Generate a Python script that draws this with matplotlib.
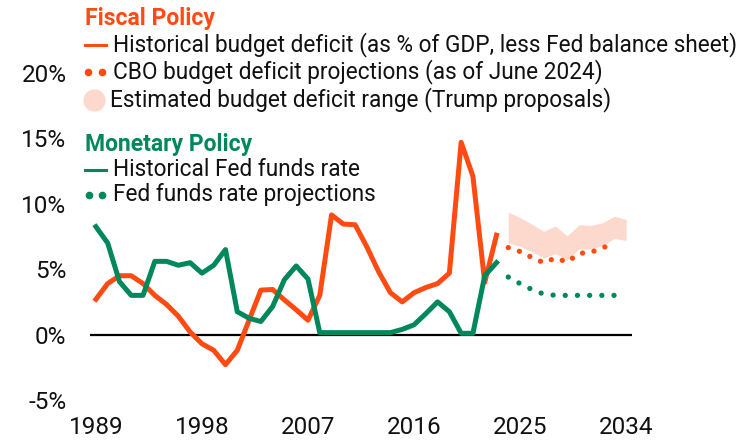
import matplotlib
matplotlib.use('Agg')
import matplotlib.pyplot as plt
from matplotlib.lines import Line2D

plt.rcParams['font.family'] = ['Roboto', 'DejaVu Sans']

# data
hist_years = list(range(1989, 2024))
deficit_hist = [2.7, 3.9, 4.5, 4.5, 3.9, 3.0, 2.3, 1.4, 0.2, -0.7,
                -1.2, -2.3, -1.2, 1.1, 3.4, 3.45, 2.65, 1.9, 1.1, 3.0,
                9.15, 8.45, 8.4, 6.7, 4.8, 3.2, 2.5, 3.2, 3.6, 3.9,
                4.7, 14.7, 12.1, 4.0, 7.6]
fed_hist = [8.25, 7.0, 4.05, 3.0, 3.0, 5.6, 5.6, 5.3, 5.5, 4.7,
            5.3, 6.5, 1.75, 1.25, 1.0, 2.15, 4.2, 5.25, 4.25, 0.15,
            0.15, 0.15, 0.15, 0.15, 0.15, 0.15, 0.4, 0.75, 1.6, 2.5,
            1.75, 0.1, 0.1, 4.5, 5.5]

proj_years = list(range(2024, 2034))
deficit_cbo = [6.65, 6.35, 5.9, 5.5, 5.85, 5.55, 6.2, 6.3, 6.6, 7.1]
fed_proj = [4.4, 3.9, 3.45, 3.1, 3.0, 3.0, 3.0, 3.0, 3.0, 3.0]

range_years = list(range(2024, 2035))
range_high = [9.35, 8.95, 8.45, 7.9, 8.3, 7.55, 8.4, 8.35, 8.55, 9.05, 8.8]
range_low = [7.0, 6.75, 6.35, 5.85, 6.2, 5.7, 6.55, 6.55, 6.8, 7.35, 7.2]

x_ticks = [1989, 1998, 2007, 2016, 2025, 2034]
y_ticks = [-5, 0, 5, 10, 15, 20]
y_labels = ['-5%', '0%', '5%', '10%', '15%', '20%']

orange = '#ff4b12'
green = '#00885c'
pink = '#fdd9cd'

W, H = 756, 440
fig = plt.figure(figsize=(W / 100, H / 100), dpi=100)
ax = fig.add_axes([90 / W, 1 - 400 / H, (632 - 90) / W, (400 - 73) / H])

ax.fill_between(range_years, range_low, range_high, color=pink, lw=0)
ax.axhline(0, color='black', lw=1.6, zorder=1)
ax.plot(hist_years, deficit_hist, color=orange, lw=3.6, zorder=3)
ax.plot(hist_years, fed_hist, color=green, lw=3.6, zorder=4)
ax.plot(proj_years, deficit_cbo, color=orange, lw=3.8,
        linestyle=(0, (0.01, 2.2)), dash_capstyle='round', zorder=3)
ax.plot(proj_years, fed_proj, color=green, lw=3.8,
        linestyle=(0, (0.01, 2.3)), dash_capstyle='round', zorder=3)

ax.set_xlim(1988.5, 2034.5)
ax.set_ylim(-5, 20)
ax.set_xticks(x_ticks)
ax.set_xticklabels([str(y) for y in x_ticks])
ax.set_yticks(y_ticks)
ax.set_yticklabels(y_labels)
ax.tick_params(length=0, labelsize=17.5, colors='#111111')
ax.tick_params(axis='y', pad=17)
ax.tick_params(axis='x', pad=11.5)
for s in ax.spines.values():
    s.set_visible(False)


def fx(px):
    return px / W


def fy(py):
    return 1 - py / H


# legend drawn by hand
txt = 16.3
fig.text(fx(85), fy(19), 'Fiscal Policy', color=orange, fontsize=16.5,
         fontweight='bold', va='center')
fig.add_artist(Line2D([fx(85), fx(106)], [fy(45), fy(45)], color=orange,
                      lw=2.2, transform=fig.transFigure))
fig.text(fx(113), fy(45), 'Historical budget deficit (as % of GDP, less Fed balance sheet)',
         fontsize=txt, va='center', color='#111111')
fig.add_artist(Line2D([fx(88), fx(102)], [fy(72), fy(72)], color=orange,
                      marker='o', markersize=4.5, linestyle='none',
                      transform=fig.transFigure))
fig.text(fx(113), fy(72), 'CBO budget deficit projections (as of June 2024)',
         fontsize=txt, va='center', color='#111111')
fig.add_artist(Line2D([fx(94)], [fy(100)], color=pink, marker='o',
                      markersize=15, linestyle='none', transform=fig.transFigure))
fig.text(fx(110), fy(100), 'Estimated budget deficit range (Trump proposals)',
         fontsize=txt, va='center', color='#111111')

fig.text(fx(85), fy(144), 'Monetary Policy', color=green, fontsize=16.5,
         fontweight='bold', va='center')
fig.add_artist(Line2D([fx(85), fx(106)], [fy(170), fy(170)], color=green,
                      lw=2.2, transform=fig.transFigure))
fig.text(fx(113), fy(170), 'Historical Fed funds rate',
         fontsize=txt, va='center', color='#111111')
fig.add_artist(Line2D([fx(89), fx(102)], [fy(195), fy(195)], color=green,
                      marker='o', markersize=4.5, linestyle='none',
                      transform=fig.transFigure))
fig.text(fx(113), fy(195), 'Fed funds rate projections',
         fontsize=txt, va='center', color='#111111')

fig.savefig('out.png', dpi=100)
